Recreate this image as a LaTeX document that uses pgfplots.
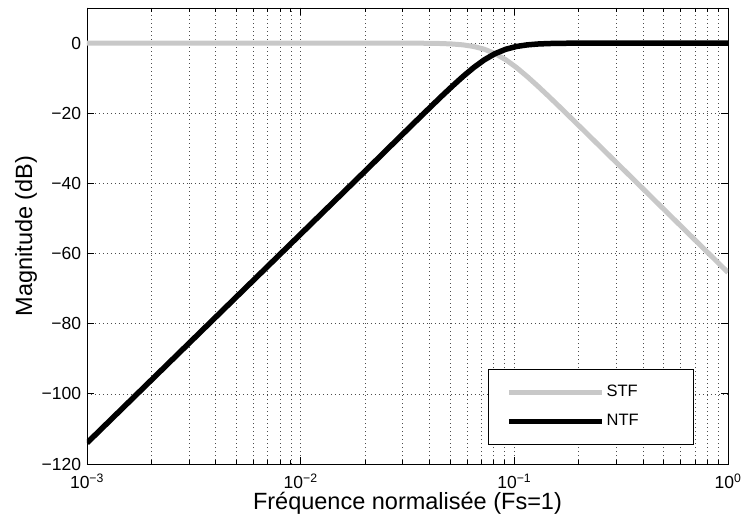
\documentclass[border=0pt]{standalone}
\usepackage{fontspec}
\setmainfont{Liberation Sans}
\usepackage{pgfplots}
\pgfplotsset{compat=1.18}
\definecolor{stfgray}{RGB}{200,200,200}
\newcommand{\legfont}{\fontsize{16.5}{19}\selectfont}
\begin{document}
\fontsize{17}{20}\selectfont
\begin{tikzpicture}
\useasboundingbox (-87pt,-58pt) rectangle (654pt,464pt);
\begin{semilogxaxis}[
    at={(0pt,0pt)}, anchor=south west,
    scale only axis, width=641pt, height=456pt,
    xmin=1e-3, xmax=1, ymin=-120, ymax=10,
    ytick={-120,-100,-80,-60,-40,-20,0},
    yticklabels={−120,−100,−80,−60,−40,−20,0},
    xtick={1e-3,1e-2,1e-1,1},
    xticklabels={10\textsuperscript{−3},10\textsuperscript{−2},10\textsuperscript{−1},10\textsuperscript{0}},
    tick label style={font=\fontsize{17.5}{20}\selectfont},
    xticklabel style={yshift=-4pt},
    tick align=inside, tick pos=both,
    major tick length=7pt, minor tick length=4pt,
    every tick/.style={black, line width=0.8pt},
    axis line style={line width=0.9pt},
    grid=both,
    major grid style={black!70, line width=0.6pt, dash pattern=on 0.8pt off 3.2pt},
    minor grid style={black!70, line width=0.6pt, dash pattern=on 0.8pt off 3.2pt},
    xlabel={Fréquence normalisée (Fs=1)},
    ylabel={Magnitude (dB)},
    label style={font=\fontsize{23.5}{27}\selectfont},
    xlabel style={at={(axis description cs:0.5,-0.0855)}, anchor=center},
    ylabel style={at={(axis description cs:-0.095,0.5)}, anchor=center},
    legend style={at={(axis description cs:0.947,0.042)}, anchor=south east,
        draw=black, line width=0.8pt, fill=white, row sep=11pt,
        inner xsep=18pt, inner ysep=14pt, font=\legfont},
    legend cell align=left,
    legend image code/.code={\draw[#1] (0pt,0pt) -- (93pt,0pt);},
]
\addplot[stfgray, line width=5pt, line join=round] coordinates {
(0.001,0) (0.02042,0) (0.02570,-0.004) (0.03236,-0.017) (0.04074,-0.068)
(0.04571,-0.135) (0.05129,-0.266) (0.05754,-0.515) (0.06457,-0.973)
(0.07244,-1.76) (0.08128,-3.01) (0.09120,-4.76) (0.1023,-6.97)
(0.1148,-9.52) (0.1288,-12.27) (0.1445,-15.13) (0.1622,-18.07)
(0.2042,-24.02) (0.2570,-30.0) (0.3236,-36.0) (0.8128,-60.0) (1,-65.4)
};
\addlegendentry{\makebox[67pt][l]{\legfont STF}}
\addplot[black, line width=5.5pt, line join=round] coordinates {
(0.001,-114.0) (0.02042,-36.0) (0.02570,-30.0) (0.03236,-24.02)
(0.04074,-18.07) (0.04571,-15.13) (0.05129,-12.27) (0.05754,-9.52)
(0.06457,-6.97) (0.07244,-4.76) (0.08128,-3.01) (0.09120,-1.76)
(0.1023,-0.973) (0.1148,-0.515) (0.1288,-0.266) (0.1445,-0.135)
(0.1622,-0.068) (0.2042,-0.017) (0.2570,-0.004) (0.3236,0) (1,0)
};
\addlegendentry{\makebox[67pt][l]{\legfont NTF}}
\end{semilogxaxis}
\end{tikzpicture}
\end{document}
